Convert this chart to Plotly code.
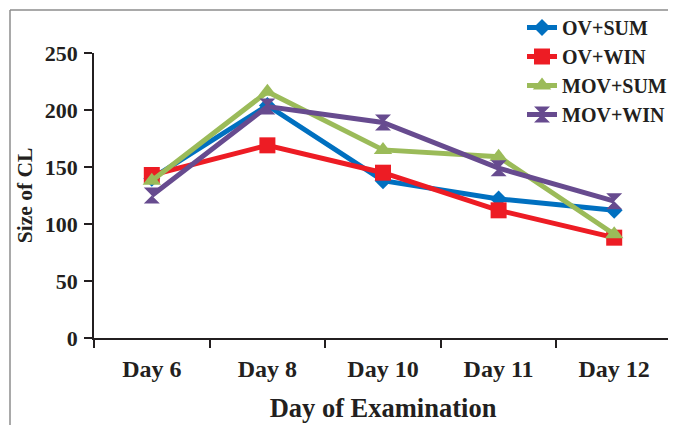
import plotly.graph_objects as go

days = ["Day 6", "Day 8", "Day 10", "Day 11", "Day 12"]
ov_sum = [140, 204, 138, 122, 112]
ov_win = [143, 169, 145, 112, 88]
mov_sum = [138, 216, 165, 159, 91]
mov_win = [125, 203, 189, 149, 120]

series_names = ["OV+SUM", "OV+WIN", "MOV+SUM", "MOV+WIN"]
series_vals = [ov_sum, ov_win, mov_sum, mov_win]
colors = ["#0070C0", "#ED1C24", "#9BBB59", "#674B8F"]
symbols = ["diamond", "square", "triangle-up", "hourglass"]
sizes = [13, 16, 16, 16]

FONT = "Liberation Serif"
TXT = "#231F20"

fig = go.Figure()
for name, vals, c, s, sz in zip(series_names, series_vals, colors, symbols, sizes):
    fig.add_trace(go.Scatter(
        x=days, y=vals, name=name, mode="lines+markers",
        line=dict(color=c, width=5),
        marker=dict(symbol=s, size=sz, color=c, line=dict(width=0)),
    ))

fig.update_layout(
    width=668, height=417,
    margin=dict(l=86, r=4, t=45, b=87, autoexpand=False),
    paper_bgcolor="white", plot_bgcolor="white",
    font=dict(family=FONT, color=TXT, size=20, weight=700),
    showlegend=True,
    legend=dict(
        xref="container", yref="container",
        x=0.7695, y=1.004, xanchor="left", yanchor="top",
        bgcolor="rgba(0,0,0,0)", font=dict(family=FONT, size=20, color=TXT, weight=700),
        tracegroupgap=0,
    ),
    xaxis=dict(
        type="category", range=[-0.5, len(days) - 0.5],
        showgrid=False, zeroline=False,
        showline=True, linecolor="#231F20", linewidth=1.5,
        ticks="outside", tickson="boundaries", ticklen=8, tickcolor="#231F20", tickwidth=1.5,
        ticklabelstandoff=8,
        tickfont=dict(family=FONT, size=24, color=TXT, weight=700),
        title=dict(text="Day of Examination", font=dict(family=FONT, size=26.5, color=TXT, weight=700), standoff=18),
    ),
    yaxis=dict(
        range=[0, 250], dtick=50, showgrid=False, zeroline=False,
        showline=True, linecolor="#231F20", linewidth=1.5,
        ticks="outside", ticklen=8, tickcolor="#231F20", tickwidth=1.5,
        ticklabelstandoff=2,
        tickfont=dict(family=FONT, size=22, color=TXT, weight=700),
        title=dict(text="Size of CL", font=dict(family=FONT, size=21.5, color=TXT, weight=700), standoff=6),
    ),
    shapes=[
        dict(type="line", xref="paper", yref="paper", x0=-84/578, x1=1.2, y0=328/285, y1=328/285,
             line=dict(color="#8C8C8C", width=1.5)),
        dict(type="line", xref="paper", yref="paper", x0=-84/578, x1=-84/578, y0=-0.5, y1=328/285,
             line=dict(color="#8C8C8C", width=1.5)),
    ],
)

fig.write_html("out.html")
